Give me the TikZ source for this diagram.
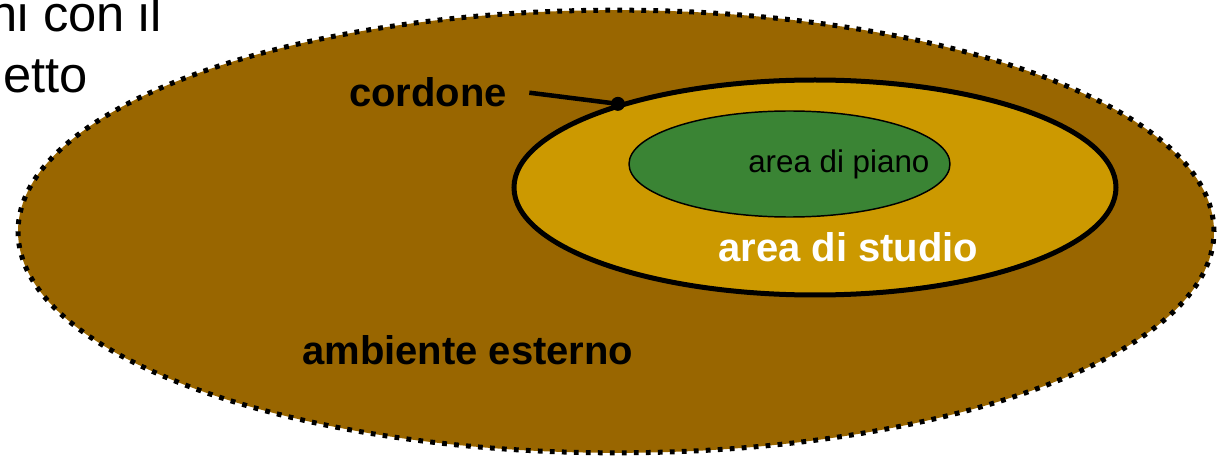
\documentclass[tikz,border=0pt]{standalone}
\usepackage{fontspec}
\setmainfont{Liberation Sans}
\usetikzlibrary{shapes.geometric}
\definecolor{colEsterno}{RGB}{153,102,0}
\definecolor{colStudio}{RGB}{204,153,0}
\definecolor{colPiano}{RGB}{58,132,52}

\begin{document}
\begin{tikzpicture}[x=0.75pt,y=-0.75pt,
	zona/.style={ellipse,inner sep=0pt},
	etichetta/.style={inner sep=0pt,anchor=base west},
	grande/.style={font=\bfseries\fontsize{30}{36}\selectfont}]
	\clip (0,0) rectangle (1222,456);
	% testo tagliato in alto a sinistra
	\node[etichetta,font=\fontsize{38}{45}\selectfont] (nota1) at (-10.5,32) {ni con il};
	\node[etichetta,font=\fontsize{38}{45}\selectfont] (nota2) at (3,93) {etto};
	% le tre zone
	\node[zona,fill=colEsterno,draw=black,line width=3.75pt,dash pattern=on 3.6pt off 5.4pt,
		minimum width=897pt,minimum height=332pt] (esterno) at (616,231.5) {};
	\node[zona,fill=colStudio,draw=black,line width=3.75pt,
		minimum width=451.5pt,minimum height=161.25pt] (studio) at (815,187.5) {};
	\node[zona,fill=colPiano,draw=black,line width=1.1pt,
		minimum width=240.75pt,minimum height=79.5pt] (piano) at (789.5,164) {};
	% etichette
	\node[etichetta,font=\fontsize{23.5}{28}\selectfont] (lpiano) at (748,173) {area di piano};
	\node[etichetta,grande,text=white] (lstudio) at (718,262) {area di studio};
	\node[etichetta,grande] (lesterno) at (302,364) {ambiente esterno};
	\node[etichetta,grande] (cordone) at (349,107) {cordone};
	% cordone
	\node[circle,fill=black,inner sep=0pt,minimum size=10.5pt] (punto) at (studio.157) {};
	\coordinate (fune) at ([xshift=16.5pt]cordone.east);
	\draw[line width=3.4pt] (fune) -- (punto.center);
\end{tikzpicture}
\end{document}
